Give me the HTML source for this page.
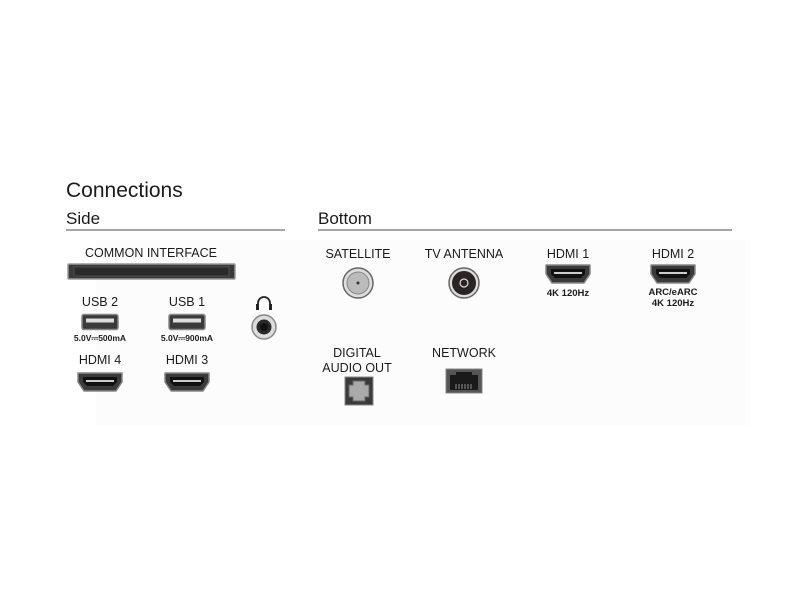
<!DOCTYPE html>
<html><head><meta charset="utf-8"><style>
html,body{margin:0;padding:0;background:#fff;}
svg{display:block;}
text{font-family:"Liberation Sans",sans-serif;fill:#1a1a1a;}
</style></head><body>
<svg width="800" height="600" viewBox="0 0 800 600" xmlns="http://www.w3.org/2000/svg">
<defs>
<g id="hdmi">
<path d="M-22,-9 H22 V0 L16,9 H-16 L-22,0 Z" fill="#3a3a3a" stroke="#888" stroke-width="1.5" stroke-linejoin="round"/>
<path d="M-17,-5 H17 V0 L13,4 H-13 L-17,0 Z" fill="#111"/>
<rect x="-14" y="-2" width="28" height="2" fill="#ccc"/>
</g>
<g id="usb">
<rect x="-18" y="-7.5" width="36" height="15" rx="2" fill="#3a3a3a" stroke="#888" stroke-width="1.5"/>
<rect x="-14" y="-3.5" width="28" height="4" fill="#ddd"/>
</g>
</defs>
<rect x="95" y="240" width="655" height="185" fill="#fcfcfc"/>
<text x="66" y="197" font-size="21">Connections</text>
<text x="66" y="224" font-size="17">Side</text>
<text x="318" y="224" font-size="17">Bottom</text>
<line x1="66" y1="230" x2="285" y2="230" stroke="#888" stroke-width="1.5"/>
<line x1="318" y1="230" x2="732" y2="230" stroke="#888" stroke-width="1.5"/>

<text x="151" y="257" font-size="12.5" text-anchor="middle">COMMON INTERFACE</text>
<rect x="68" y="264" width="167" height="15" rx="1" fill="#3a3a3a" stroke="#999" stroke-width="1.5"/>
<rect x="74" y="267" width="155" height="9" fill="#2a2a2a" stroke="#555" stroke-width="0.8"/>

<text x="100" y="306" font-size="12.5" text-anchor="middle">USB 2</text>
<use href="#usb" x="100" y="322"/>
<text x="100" y="341" font-size="8.5" font-weight="bold" text-anchor="middle">5.0V⎓500mA</text>
<text x="187" y="306" font-size="12.5" text-anchor="middle">USB 1</text>
<use href="#usb" x="187" y="322"/>
<text x="187" y="341" font-size="8.5" font-weight="bold" text-anchor="middle">5.0V⎓900mA</text>

<path d="M258,309 V303 A6,6 0 0 1 270,303 V309" fill="none" stroke="#222" stroke-width="1.8"/>
<rect x="256" y="304" width="3" height="6" fill="#222"/><rect x="269" y="304" width="3" height="6" fill="#222"/>
<circle cx="264" cy="327" r="12" fill="#ddd" stroke="#888" stroke-width="1.5"/>
<circle cx="264" cy="327" r="7.5" fill="#2a2a2a"/>
<circle cx="264" cy="327" r="4" fill="#111"/>

<text x="100" y="364" font-size="12.5" text-anchor="middle">HDMI 4</text>
<use href="#hdmi" x="100" y="382"/>
<text x="187" y="364" font-size="12.5" text-anchor="middle">HDMI 3</text>
<use href="#hdmi" x="187" y="382"/>

<text x="358" y="258" font-size="12.5" text-anchor="middle">SATELLITE</text>
<circle cx="358" cy="283" r="15" fill="#ddd" stroke="#666" stroke-width="1.5"/>
<circle cx="358" cy="283" r="11" fill="#bbb" stroke="#888"/>
<circle cx="358" cy="283" r="1.5" fill="#333"/>
<text x="464" y="258" font-size="12.5" text-anchor="middle">TV ANTENNA</text>
<circle cx="464" cy="283" r="15" fill="#ddd" stroke="#666" stroke-width="1.5"/>
<circle cx="464" cy="283" r="12" fill="#2a2424"/>
<circle cx="464" cy="283" r="4" fill="none" stroke="#ddd" stroke-width="1.2"/>

<text x="568" y="258" font-size="12.5" text-anchor="middle">HDMI 1</text>
<use href="#hdmi" x="568" y="274"/>
<text x="568" y="296" font-size="9.5" font-weight="bold" text-anchor="middle">4K 120Hz</text>
<text x="673" y="258" font-size="12.5" text-anchor="middle">HDMI 2</text>
<use href="#hdmi" x="673" y="274"/>
<text x="673" y="295" font-size="9.5" font-weight="bold" text-anchor="middle">ARC/eARC</text>
<text x="673" y="306" font-size="9.5" font-weight="bold" text-anchor="middle">4K 120Hz</text>

<text x="357" y="357" font-size="12.5" text-anchor="middle">DIGITAL</text>
<text x="357" y="372" font-size="12.5" text-anchor="middle">AUDIO OUT</text>
<rect x="345" y="377" width="28" height="28" fill="#3a3a3a" stroke="#888"/>
<path d="M353,381 H365 V385 H369 V397 H365 V401 H353 V397 H349 V385 H353 Z" fill="#aaa" stroke="#666"/>

<text x="464" y="357" font-size="12.5" text-anchor="middle">NETWORK</text>
<rect x="446" y="369" width="36" height="24" fill="#555" stroke="#888"/>
<path d="M450,375 H456 V372 H472 V375 H478 V390 H450 Z" fill="#1a1a1a"/>
<g stroke="#aaa" stroke-width="0.8"><line x1="456" y1="384" x2="456" y2="389"/><line x1="459" y1="384" x2="459" y2="389"/><line x1="462" y1="384" x2="462" y2="389"/><line x1="465" y1="384" x2="465" y2="389"/><line x1="468" y1="384" x2="468" y2="389"/><line x1="471" y1="384" x2="471" y2="389"/></g>
</svg>
</body></html>
